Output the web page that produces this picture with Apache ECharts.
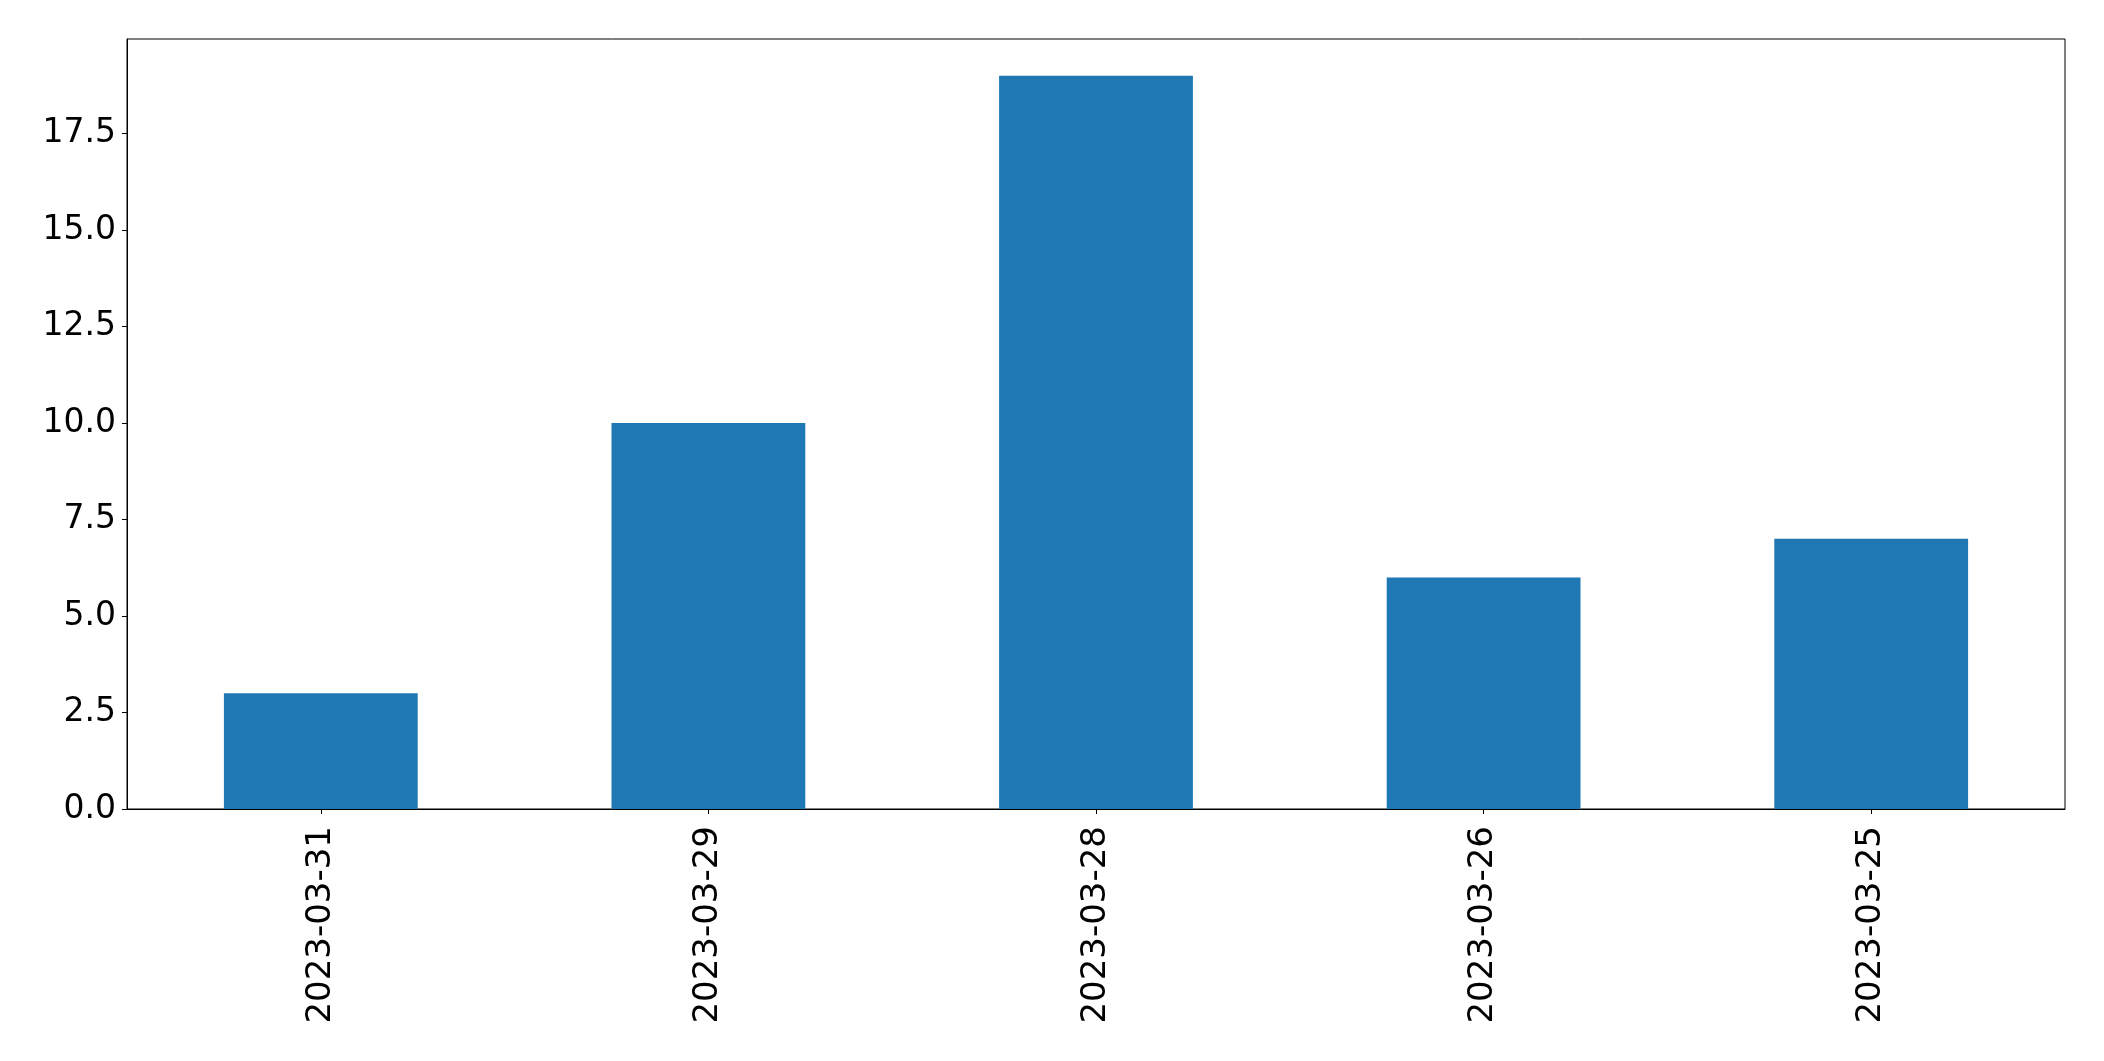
<!DOCTYPE html>
<html>
<head>
<meta charset="utf-8">
<script src="https://cdn.jsdelivr.net/npm/echarts@6/dist/echarts.min.js"></script>
<style>html,body{margin:0;padding:0;background:#fff}#c{width:2104px;height:1061px}</style>
</head>
<body>
<div id="c"></div>
<script>
const categories = ["2023-03-31", "2023-03-29", "2023-03-28", "2023-03-26", "2023-03-25"];
const values = [3, 10, 19, 6, 7];
const yMin = 0;
const yMax = 19.95;
const yInterval = 2.5;

const chart = echarts.init(document.getElementById('c'), null, {renderer: 'canvas'});
const font = 'DejaVu Sans';
chart.setOption({
  animation: false,
  backgroundColor: '#fff',
  grid: {left: 127, top: 39, right: 39, bottom: 252, show: true, borderColor: '#000', borderWidth: 1, backgroundColor: 'transparent'},
  xAxis: {
    type: 'category',
    data: categories,
    axisLine: {show: true, lineStyle: {color: '#000', width: 1}},
    axisTick: {show: true, alignWithLabel: true, length: 5, lineStyle: {color: '#000', width: 1}},
    axisLabel: {rotate: 90, color: '#000', fontFamily: font, fontSize: 34, margin: 17, interval: 0},
    splitLine: {show: false}
  },
  yAxis: {
    type: 'value',
    min: yMin, max: yMax, interval: yInterval,
    axisLine: {show: true, lineStyle: {color: '#000', width: 1}},
    axisTick: {show: true, length: 5, lineStyle: {color: '#000', width: 1}},
    axisLabel: {color: '#000', fontFamily: font, fontSize: 33, margin: 11, showMaxLabel: false,
      formatter: v => (Math.abs(v / yInterval - Math.round(v / yInterval)) < 1e-9) ? v.toFixed(1) : ''},
    splitLine: {show: false}
  },
  series: [{
    type: 'bar',
    data: values,
    barWidth: '50%',
    itemStyle: {color: '#1f77b4'}
  }]
});
</script>
</body>
</html>
